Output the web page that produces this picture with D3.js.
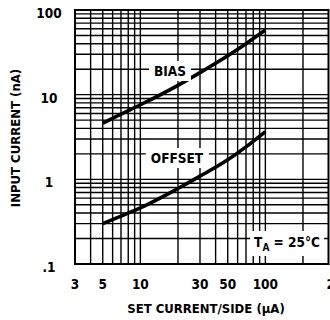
<!DOCTYPE html>
<html><head><meta charset="utf-8">
<script src="https://cdn.jsdelivr.net/npm/d3@7"></script>
<style>
body{margin:0;background:#fff;}
text{font-family:"Liberation Sans Narrow","Arial Narrow","DejaVu Sans Condensed",sans-serif;font-weight:bold;fill:#000;}
</style></head>
<body><svg id="c" width="330" height="320"></svg>
<script>
const xTickValues = [3, 5, 10, 30, 50, 100, 200];
const xTickLabels = ["3", "5", "10", "30", "50", "100", "200"];
const yTickValues = [0.1, 1, 10, 100];
const yTickLabels = [".1", "1", "10", "100"];
const xGridValues = [4,5,6,7,8,9,10,20,30,40,50,60,70,80,90,100,200];
const yGridValues = [0.2,0.3,0.4,0.5,0.6,0.7,0.8,0.9,1,2,3,4,5,6,7,8,9,10,20,30,40,50,60,70,80,90];
const setCurrent = [5, 7, 10, 20, 30, 50, 70, 100];
const biasCurrent = [4.6, 5.9, 7.6, 12.9, 18.2, 28.8, 40, 58];
const offsetCurrent = [0.30, 0.368, 0.46, 0.78, 1.09, 1.70, 2.42, 3.67];

const svg = d3.select("#c");
const x = d3.scaleLog().domain([3, 320]).range([75, 328.5]);
const y = d3.scaleLog().domain([0.1, 100]).range([264, 10]);

const g = svg.append("g");
g.selectAll("line.vx").data(xGridValues).join("line")
  .attr("x1", d => x(d)).attr("x2", d => x(d))
  .attr("y1", y(0.1)).attr("y2", y(100))
  .attr("stroke", "#000").attr("stroke-width", 1.4);
g.selectAll("line.hy").data(yGridValues).join("line")
  .attr("y1", d => y(d)).attr("y2", d => y(d))
  .attr("x1", x(3)).attr("x2", x(320))
  .attr("stroke", "#000").attr("stroke-width", 1.4);
g.append("rect").attr("x", x(3)).attr("y", y(100))
  .attr("width", x(320) - x(3)).attr("height", y(0.1) - y(100))
  .attr("fill", "none").attr("stroke", "#000").attr("stroke-width", 2);

// curves
const line = d3.line().x((d, i) => x(setCurrent[i])).y(d => y(d)).curve(d3.curveMonotoneX);
svg.append("path").attr("d", line(biasCurrent)).attr("fill", "none").attr("stroke", "#000").attr("stroke-width", 3.6);
svg.append("path").attr("d", line(offsetCurrent)).attr("fill", "none").attr("stroke", "#000").attr("stroke-width", 3.6);

// labels with white backgrounds
function boxLabel(tx, ty, build, padX, padY) {
  const t = svg.append("text").attr("x", tx).attr("y", ty).attr("text-anchor", "middle").attr("font-size", 13.5);
  build(t);
  const b = t.node().getBBox();
  svg.insert("rect", () => t.node()).attr("x", b.x - padX).attr("y", b.y - padY)
    .attr("width", b.width + 2 * padX).attr("height", b.height + 2 * padY).attr("fill", "#fff");
}
boxLabel(170, 76, t => t.text("BIAS"), 5, 2);
boxLabel(177, 163, t => t.text("OFFSET"), 5, 2);
boxLabel(287, 247, t => {
  t.append("tspan").text("T");
  t.append("tspan").attr("font-size", 10).attr("dy", 4).text("A");
  t.append("tspan").attr("dy", -4).text(" = 25°C");
}, 4, 3);

// x tick labels
svg.selectAll("text.xt").data(xTickValues).join("text")
  .attr("x", (d, i) => i === xTickValues.length - 1 ? x.range()[1] - 2 : x(d))
  .attr("y", 289).attr("text-anchor", (d, i) => i === xTickValues.length - 1 ? "start" : "middle")
  .attr("font-size", 13.5).text((d, i) => xTickLabels[i]);
// y tick labels
svg.selectAll("text.yt").data(yTickValues).join("text")
  .attr("x", 49).attr("y", d => y(d) + 8)
  .attr("text-anchor", "middle").attr("font-size", 13.5).text((d, i) => yTickLabels[i]);

svg.append("text").attr("x", 206).attr("y", 313).attr("text-anchor", "middle").attr("font-size", 13)
  .text("SET CURRENT/SIDE (µA)");
svg.append("text").attr("transform", "translate(20,138) rotate(-90)").attr("text-anchor", "middle").attr("font-size", 13)
  .text("INPUT CURRENT (nA)");
</script></body></html>
